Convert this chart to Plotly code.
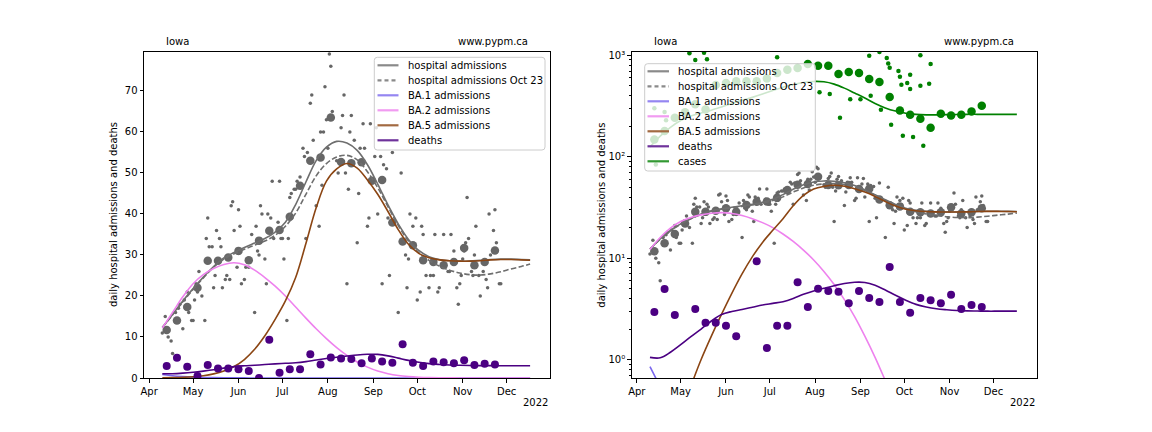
import pandas as pd
import plotly.graph_objects as go

W, H = 1152, 432
FONT = "DejaVu Sans"

# ---- data (days counted from 2022-04-01) ----
hosp_daily_day = [9, 11, 13, 15, 16, 18, 20, 21, 23, 24, 26, 27, 29, 30, 31, 32, 33, 34, 36, 38,
                  39, 40, 41, 43, 44, 45, 46, 48, 49, 50, 52, 53, 55, 56, 57, 58, 60, 61, 62, 63,
                  65, 66, 68, 70, 72, 73, 74, 75, 76, 77, 79, 80, 81, 83, 84, 85, 88, 89, 90, 91,
                  92, 94, 95, 96, 97, 99, 100, 101, 103, 105, 106, 107, 108, 110, 111, 112, 114, 116, 117, 118,
                  119, 120, 121, 122, 123, 124, 125, 128, 129, 131, 132, 133, 134, 135, 136, 137, 138, 140, 142, 143,
                  144, 146, 147, 149, 150, 151, 154, 155, 156, 158, 159, 160, 162, 163, 164, 166, 170, 172, 175, 176,
                  177, 178, 180, 181, 182, 183, 185, 186, 187, 189, 191, 192, 194, 195, 197, 198, 201, 204, 205, 206,
                  208, 210, 211, 212, 213, 214, 215, 216, 217, 218, 220, 221, 222, 223, 225, 226, 228, 230, 231, 232,
                  233, 235, 236, 237, 239, 240]
hosp_daily_val = [11, 15, 10, 9, 6, 16, 17, 18, 12, 19, 21, 16, 14, 14, 19, 23, 21, 26, 20, 14,
                  34, 39, 32, 32, 22, 25, 36, 34, 32, 22, 24, 25, 24, 42, 43, 36, 27, 41, 37, 23,
                  24, 27, 27, 35, 16, 37, 31, 30, 42, 40, 29, 23, 40, 39, 48, 34, 38, 48, 34, 34,
                  29, 14, 34, 44, 45, 46, 46, 48, 49, 56, 54, 34, 55, 67, 69, 58, 42, 37, 60, 47,
                  60, 71, 63, 56, 79, 76, 65, 53, 50, 61, 64, 69, 50, 23, 46, 60, 64, 58, 33, 45,
                  56, 62, 56, 37, 39, 62, 54, 61, 40, 54, 23, 52, 51, 39, 25, 55, 16, 50, 30, 22,
                  29, 40, 37, 32, 39, 19, 21, 37, 35, 25, 22, 25, 25, 35, 21, 22, 35, 26, 26, 35,
                  31, 22, 18, 23, 25, 29, 31, 33, 44, 34, 26, 25, 30, 37, 25, 20, 26, 24, 22, 40,
                  30, 36, 41, 33, 23, 23]

week_start = "2022-04-13"
hosp_weekly = [11.7, 14.0, 17.3, 22.0, 28.6, 28.6, 29.4, 31.0, 28.7, 33.5, 35.9, 36.1, 39.3, 46.9, 53.0, 53.8,
               63.5, 52.7, 52.4, 52.6, 48.1, 48.3, 37.9, 33.3, 32.4, 28.7, 28.3, 27.5, 28.3, 31.7, 27.5, 28.3, 31.1]
deaths_weekly = [2.95, 4.95, 2.75, 0.5, 3.15, 2.3, 2.3, 2.15, 1.7, 0, 9.3, 1.3, 2.15, 2.15, 5.8, 3.3,
                 5.0, 4.75, 4.65, 3.6, 4.75, 4.05, 3.7, 8.2, 3.7, 2.9, 4.05, 3.85, 3.6, 4.35, 3.15, 3.45, 3.3]
cases_weekly = [148, 179, 242, 275, 330, 292, 510, 535, 555, 555, 555, 590, 670, 720, 750, 820,
                790, 790, 655, 685, 670, 585, 547, 389, 286, 259, 237, 193, 265, 255, 259, 279, 318]

cases_daily_day = [12, 13, 19, 20, 36, 40, 46, 48, 96, 125, 132, 139, 146, 153, 159, 160, 166, 167, 171, 172,
                   173, 174, 179, 180, 181, 182, 185, 187, 187, 189, 194, 194, 196, 200, 201]
cases_daily_val = [300, 84, 276, 229, 1050, 900, 1060, 915, 955, 432, 415, 242, 370, 370, 990, 400, 1080, 290, 940, 830,
                   755, 207, 700, 615, 512, 161, 533, 643, 466, 157, 1000, 500, 128, 525, 820]

model_day = [9, 16, 23, 30, 37, 44, 51, 58, 65, 72, 79, 86, 93, 100, 107, 114, 121, 128, 135, 142,
             149, 156, 163, 170, 177, 184, 191, 198, 205, 212, 219, 226, 233, 240, 247, 254, 260]
hosp_model = [12.3, 15.5, 18.8, 21.8, 24.6, 27.2, 29.3, 30.6, 31.8, 32.9, 34.0, 35.6, 38.0, 42.3, 47.8, 53.0,
              56.3, 57.7, 57.3, 55.5, 52.0, 47.3, 42.2, 37.6, 33.8, 31.1, 29.6, 28.9, 28.6, 28.5, 28.5, 28.7,
              28.9, 29.0, 29.0, 28.9, 28.8]
hosp_oct23 = [12.3, 15.4, 18.6, 21.6, 24.4, 27.0, 29.0, 30.3, 31.4, 32.4, 33.4, 34.8, 37.0, 40.2, 44.8, 49.3,
              52.3, 53.9, 54.3, 53.2, 50.3, 46.4, 41.8, 37.2, 33.4, 30.6, 28.7, 27.3, 26.3, 25.6, 25.2, 25.1,
              25.4, 25.9, 26.6, 27.2, 27.8]
ba1_model = [0.85, 0.54, 0.34, 0.21, 0.135, 0.085, 0.054, 0.034, 0.021, 0.013, 0.0085, 0.0054, 0.0034, 0.0021,
             0.0014, 0.001, 0.001, 0.001, 0.001, 0.001, 0.001, 0.001, 0.001, 0.001, 0.001, 0.001, 0.001, 0.001,
             0.001, 0.001, 0.001, 0.001, 0.001, 0.001, 0.001, 0.001, 0.001]
ba2_model = [12.2, 16.0, 19.8, 23.0, 25.2, 26.7, 27.7, 28.1, 27.6, 26.3, 24.5, 22.4, 20.0, 17.3, 14.6, 12.0,
             9.6, 7.4, 5.5, 3.9, 2.65, 1.7, 1.05, 0.62, 0.36, 0.2, 0.11, 0.06, 0.033, 0.018, 0.01, 0.0055,
             0.003, 0.0017, 0.001, 0.0006, 0.0004]
ba5_model = [0.06, 0.1, 0.17, 0.3, 0.55, 1.0, 1.7, 2.8, 4.5, 7.0, 10.3, 14.3, 18.8, 24.5, 32.8, 41.5,
             48.0, 51.0, 52.3, 51.2, 48.3, 44.8, 40.6, 36.2, 32.6, 30.4, 29.3, 28.8, 28.6, 28.5, 28.5, 28.6,
             28.8, 28.9, 28.9, 28.8, 28.7]
deaths_model = [1.05, 1.04, 1.18, 1.4, 1.68, 2.0, 2.4, 2.78, 2.98, 3.12, 3.28, 3.45, 3.58, 3.72, 4.0, 4.4,
                4.75, 5.05, 5.35, 5.62, 5.78, 5.75, 5.4, 4.85, 4.3, 3.85, 3.5, 3.3, 3.17, 3.1, 3.05, 3.02,
                3.01, 3.0, 3.0, 3.0, 3.0]
cases_model = [125, 160, 195, 228, 252, 270, 288, 310, 335, 360, 385, 415, 450, 485, 515, 540,
               553, 548, 520, 475, 425, 380, 335, 303, 282, 269, 262, 259, 259, 260, 261, 262,
               262, 262, 262, 262, 262]

month_labels = ["Apr", "May", "Jun", "Jul", "Aug", "Sep", "Oct", "Nov", "Dec"]
log_tick_labels = ["10⁰", "10¹", "10²", "10³"]

# ---- helpers ----
base = pd.Timestamp("2022-04-01")


def to_dates(days):
    return [base + pd.Timedelta(days=d) for d in days]


week_dates = pd.date_range(week_start, periods=len(hosp_weekly), freq="7D")
daily_dates = to_dates(hosp_daily_day)
model_dates = to_dates(model_day)
case_dates = to_dates(cases_daily_day)

GREY = "#666666"
LINEGREY = "#6e6e6e"
BA1 = "mediumslateblue"
BA2 = "violet"
BA5 = "saddlebrown"
DEATH = "indigo"
CASE = "green"

fig = go.Figure()


def add_panel(xa, ya, log):
    fig.add_trace(go.Scatter(x=daily_dates, y=hosp_daily_val, mode="markers",
                             marker=dict(color=GREY, size=3.5), xaxis=xa, yaxis=ya))
    fig.add_trace(go.Scatter(x=week_dates, y=hosp_weekly, mode="markers",
                             marker=dict(color=GREY, size=8.5), xaxis=xa, yaxis=ya))
    if log:
        fig.add_trace(go.Scatter(x=case_dates, y=cases_daily_val, mode="markers",
                                 marker=dict(color=CASE, size=4.5), xaxis=xa, yaxis=ya))
        fig.add_trace(go.Scatter(x=week_dates, y=cases_weekly, mode="markers",
                                 marker=dict(color=CASE, size=8.5), xaxis=xa, yaxis=ya))
    fig.add_trace(go.Scatter(x=model_dates, y=hosp_model, mode="lines", line_shape="spline",
                             line=dict(color=LINEGREY, width=1.6), xaxis=xa, yaxis=ya))
    fig.add_trace(go.Scatter(x=model_dates, y=hosp_oct23, mode="lines", line_shape="spline",
                             line=dict(color=LINEGREY, width=1.6, dash="5.5px,2.4px"), xaxis=xa, yaxis=ya))
    for vals, col in [(ba1_model, BA1), (ba2_model, BA2), (ba5_model, BA5)]:
        fig.add_trace(go.Scatter(x=model_dates, y=vals, mode="lines", line_shape="spline",
                                 line=dict(color=col, width=1.6), xaxis=xa, yaxis=ya))
    dvals = [v if (v > 0 or not log) else None for v in deaths_weekly]
    fig.add_trace(go.Scatter(x=week_dates, y=dvals, mode="markers",
                             marker=dict(color=DEATH, size=8), xaxis=xa, yaxis=ya))
    fig.add_trace(go.Scatter(x=model_dates, y=deaths_model, mode="lines", line_shape="spline",
                             line=dict(color=DEATH, width=1.6), xaxis=xa, yaxis=ya))
    if log:
        fig.add_trace(go.Scatter(x=model_dates, y=cases_model, mode="lines", line_shape="spline",
                                 line=dict(color=CASE, width=1.6), xaxis=xa, yaxis=ya))


add_panel("x", "y", False)
add_panel("x2", "y2", True)


def px(x):
    return x / W


def py(y):
    return 1 - y / H


axis_common = dict(showline=True, mirror=True, linecolor="black", linewidth=1, ticks="outside",
                   ticklen=3.5, tickwidth=0.8, tickcolor="black", showgrid=False, zeroline=False,
                   automargin=False, tickfont=dict(family=FONT, size=10, color="black"))
xrange_ = ["2022-03-28 12:00", "2022-12-30 14:00"]
month_ticks = pd.date_range("2022-04-01", periods=9, freq="MS")

fig.update_layout(
    width=W, height=H, margin=dict(l=0, r=0, t=0, b=0, pad=0, autoexpand=False),
    paper_bgcolor="white", plot_bgcolor="white", showlegend=False,
    xaxis=dict(domain=[px(144), px(550)], range=xrange_, tickvals=month_ticks, ticktext=month_labels,
               anchor="y", **axis_common),
    yaxis=dict(domain=[1 - 378 / H, 1 - 52 / H], range=[0, 79.5], tickvals=list(range(0, 80, 10)),
               anchor="x", **axis_common),
    xaxis2=dict(domain=[px(631.7), px(1036.7)], range=xrange_, tickvals=month_ticks, ticktext=month_labels,
                anchor="y2", **axis_common),
    yaxis2=dict(domain=[1 - 378 / H, 1 - 52 / H], type="log", range=[-0.182, 3.033],
                tickvals=[1, 10, 100, 1000], ticktext=log_tick_labels,
                minor=dict(ticks="outside", ticklen=2, tickwidth=0.6, tickcolor="black", dtick="D1"),
                anchor="x2", **axis_common),
)

annotations = []


def text(x, y, s, xanchor="left", angle=0):
    annotations.append(dict(x=px(x), y=py(y), xref="paper", yref="paper", text=s, showarrow=False,
                            xanchor=xanchor, yanchor="middle", textangle=angle,
                            font=dict(family=FONT, size=10, color="black")))


for left, right in [(144, 550), (631.7, 1036.7)]:
    w = right - left
    text(left + 0.05 * w, 41.7, "Iowa")
    text(left + 0.95 * w, 41.7, "www.pypm.ca", xanchor="right")
    text(right, 402, "2022", xanchor="right")
    text(left - 30, 215, "daily hospital admissions and deaths", xanchor="center", angle=-90)

shapes = []


def legend_box(x0, y0, x1, y1, y_first, line_x0, line_x1, text_x, entries):
    r = 3
    X0, X1, Y0, Y1 = px(x0), px(x1), py(y0), py(y1)
    rx, ry = r / W, r / H
    path = (f"M {X0 + rx},{Y0} L {X1 - rx},{Y0} Q {X1},{Y0} {X1},{Y0 - ry} "
            f"L {X1},{Y1 + ry} Q {X1},{Y1} {X1 - rx},{Y1} L {X0 + rx},{Y1} Q {X0},{Y1} {X0},{Y1 + ry} "
            f"L {X0},{Y0 - ry} Q {X0},{Y0} {X0 + rx},{Y0} Z")
    shapes.append(dict(type="path", path=path, xref="paper", yref="paper", layer="above",
                       fillcolor="rgba(255,255,255,0.8)", line=dict(color="#cccccc", width=1)))
    for i, (label, col, dash) in enumerate(entries):
        y = y_first + 15 * i
        shapes.append(dict(type="line", xref="paper", yref="paper", layer="above",
                           x0=px(line_x0), x1=px(line_x1), y0=py(y), y1=py(y),
                           line=dict(color=col, width=2.2, dash=dash)))
        text(text_x, y, label)


entries = [("hospital admissions", "#8a8a8a", "solid"),
           ("hospital admissions Oct 23", "#8a8a8a", "4px,3px"),
           ("BA.1 admissions", "#9586f1", "solid"),
           ("BA.2 admissions", "#f19bf1", "solid"),
           ("BA.5 admissions", "#a26a42", "solid"),
           ("deaths", "#6f339b", "solid")]
legend_box(374.3, 57.3, 545, 150, 65.3, 377.5, 398.5, 406, entries)
legend_box(644.7, 63.7, 815.3, 171, 71.3, 647.5, 669, 676.3, entries + [("cases", "#339933", "solid")])

fig.update_layout(annotations=annotations, shapes=shapes)
# page body has a default 8px margin; drop it so the figure sits at the window origin
fig.write_html("out.html", config={"displayModeBar": False},
               post_script="document.body.style.margin='0';")
